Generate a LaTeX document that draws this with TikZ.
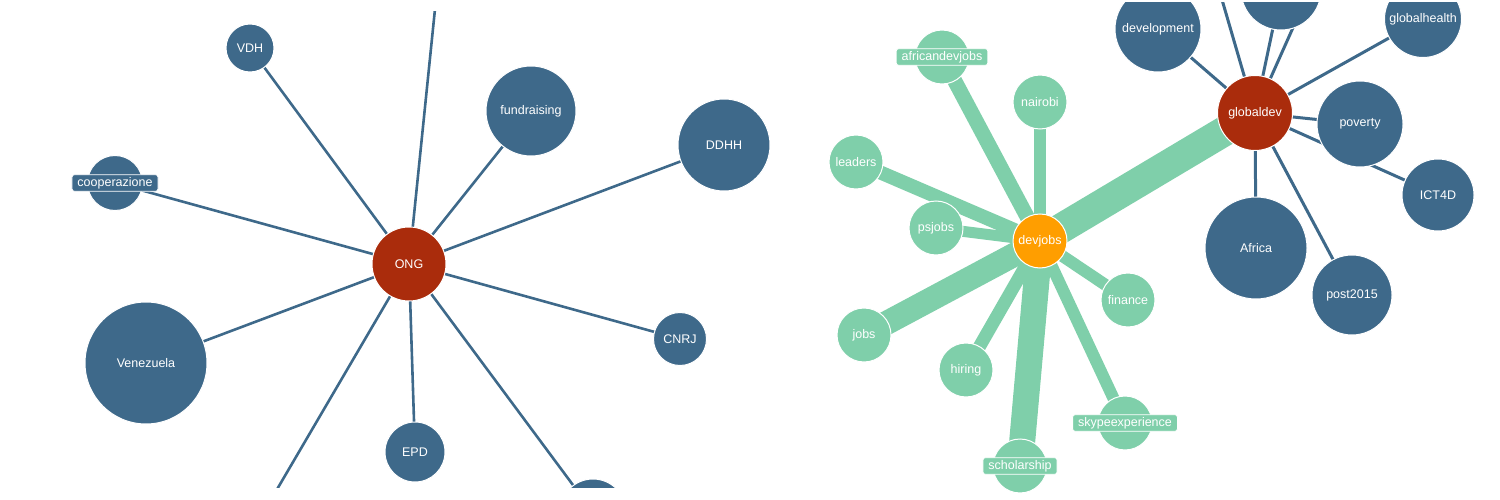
\documentclass[tikz,border=0pt]{standalone}
\usepackage{fontspec}
\setmainfont{Liberation Sans}
\usetikzlibrary{backgrounds}

\definecolor{tagblue}{RGB}{62,105,138}
\definecolor{hubred}{RGB}{170,44,12}
\definecolor{jobgreen}{RGB}{127,207,170}
\definecolor{joborange}{RGB}{255,158,0}

\begin{document}
\begin{tikzpicture}[x=1pt,y=-1pt,
   tag/.style={circle,fill=tagblue,draw=white,line width=1pt,text=white,
               inner sep=0pt,minimum size=#1pt,font=\fontsize{12.5}{15}\selectfont},
   hub/.style={tag=#1,fill=hubred},
   job/.style={tag=54,fill=jobgreen},
   devhub/.style={tag=54,fill=joborange},
   lbl/.style={fill=#1,draw=white,line width=0.8pt,rounded corners=2.5pt,
               text=white,inner xsep=5.5pt,inner ysep=2.5pt,
               font=\fontsize{12.5}{15}\selectfont},
   blink/.style={draw=tagblue,line width=#1},
   glink/.style={draw=jobgreen,line width=#1}
  ]
  \useasboundingbox (0,0) rectangle (1500,500);

  % ONG panel
  \begin{scope}
    \clip (0,12) rectangle (790,487);
    \node[hub=74] (ong) at (409,264) {ONG};
    \node[tag=48] (vdh) at (250,48) {VDH};
    \node[tag=55] (coop) at (115,183) {};
    \node[lbl=tagblue] (coop-l) at (coop) {cooperazione};
    \node[tag=90] (fund) at (531,111) {fundraising};
    \node[tag=92] (ddhh) at (724,145) {DDHH};
    \node[tag=53] (cnrj) at (680,339) {CNRJ};
    \node[tag=122] (ven) at (146,363) {Venezuela};
    \node[tag=60] (epd) at (415,452) {EPD};
    \node[tag=66] (cut) at (593,512) {};
    \coordinate (up) at (440,-40);
    \coordinate (down) at (262,515);
    \begin{scope}[on background layer]
      \begin{scope}
        \clip (0,12) rectangle (790,487);
        \foreach \t in {vdh,coop,fund,ddhh,cnrj,ven,epd,cut,up,down}
          \draw[blink=2.6pt] (ong.center) -- (\t.center);
      \end{scope}
    \end{scope}
  \end{scope}

  % globaldev / devjobs panel
  \begin{scope}
    \clip (800,3) rectangle (1500,497);
    \node[hub=75] (gdev) at (1255,113) {globaldev};
    \node[devhub] (devjobs) at (1040,241) {devjobs};
    \node[tag=86] (devt) at (1158,29) {development};
    \node[tag=80] (topc) at (1281,-10) {};
    \node[tag=77] (ghealth) at (1423,19) {globalhealth};
    \node[tag=86] (pov) at (1360,124) {poverty};
    \node[tag=72] (ict) at (1438,195) {ICT4D};
    \node[tag=102] (afr) at (1256,248) {Africa};
    \node[tag=80] (p2015) at (1352,295) {post2015};
    \coordinate (gup1) at (1209,-45);
    \coordinate (gup2) at (1332,-60);
    \node[job] (adj) at (942,57) {};
    \node[lbl=jobgreen] (adj-l) at (adj) {africandevjobs};
    \node[job] (nai) at (1040,102) {nairobi};
    \node[job] (lead) at (856,162) {leaders};
    \node[job] (psj) at (936,228) {psjobs};
    \node[job] (jobs) at (864,335) {jobs};
    \node[job] (hir) at (966,370) {hiring};
    \node[job] (fin) at (1128,300) {finance};
    \node[job] (sky) at (1125,423) {};
    \node[lbl=jobgreen] (sky-l) at (sky) {skypeexperience};
    \node[job] (schol) at (1020,466) {};
    \node[lbl=jobgreen] (schol-l) at (schol) {scholarship};
    \begin{scope}[on background layer]
      \begin{scope}
        \clip (800,3) rectangle (1500,497);
        \foreach \t in {devt,topc,ghealth,pov,ict,afr,p2015,gup1,gup2}
          \draw[blink=3pt] (gdev.center) -- (\t.center);
        % edge width = weight
        \foreach \t/\w in {gdev/30,schol/26,jobs/24,adj/15,lead/14,hir/13,
                           nai/12,sky/12,fin/12,psj/11}
          \draw[glink=\w pt] (devjobs.center) -- (\t.center);
      \end{scope}
    \end{scope}
  \end{scope}
\end{tikzpicture}
\end{document}
